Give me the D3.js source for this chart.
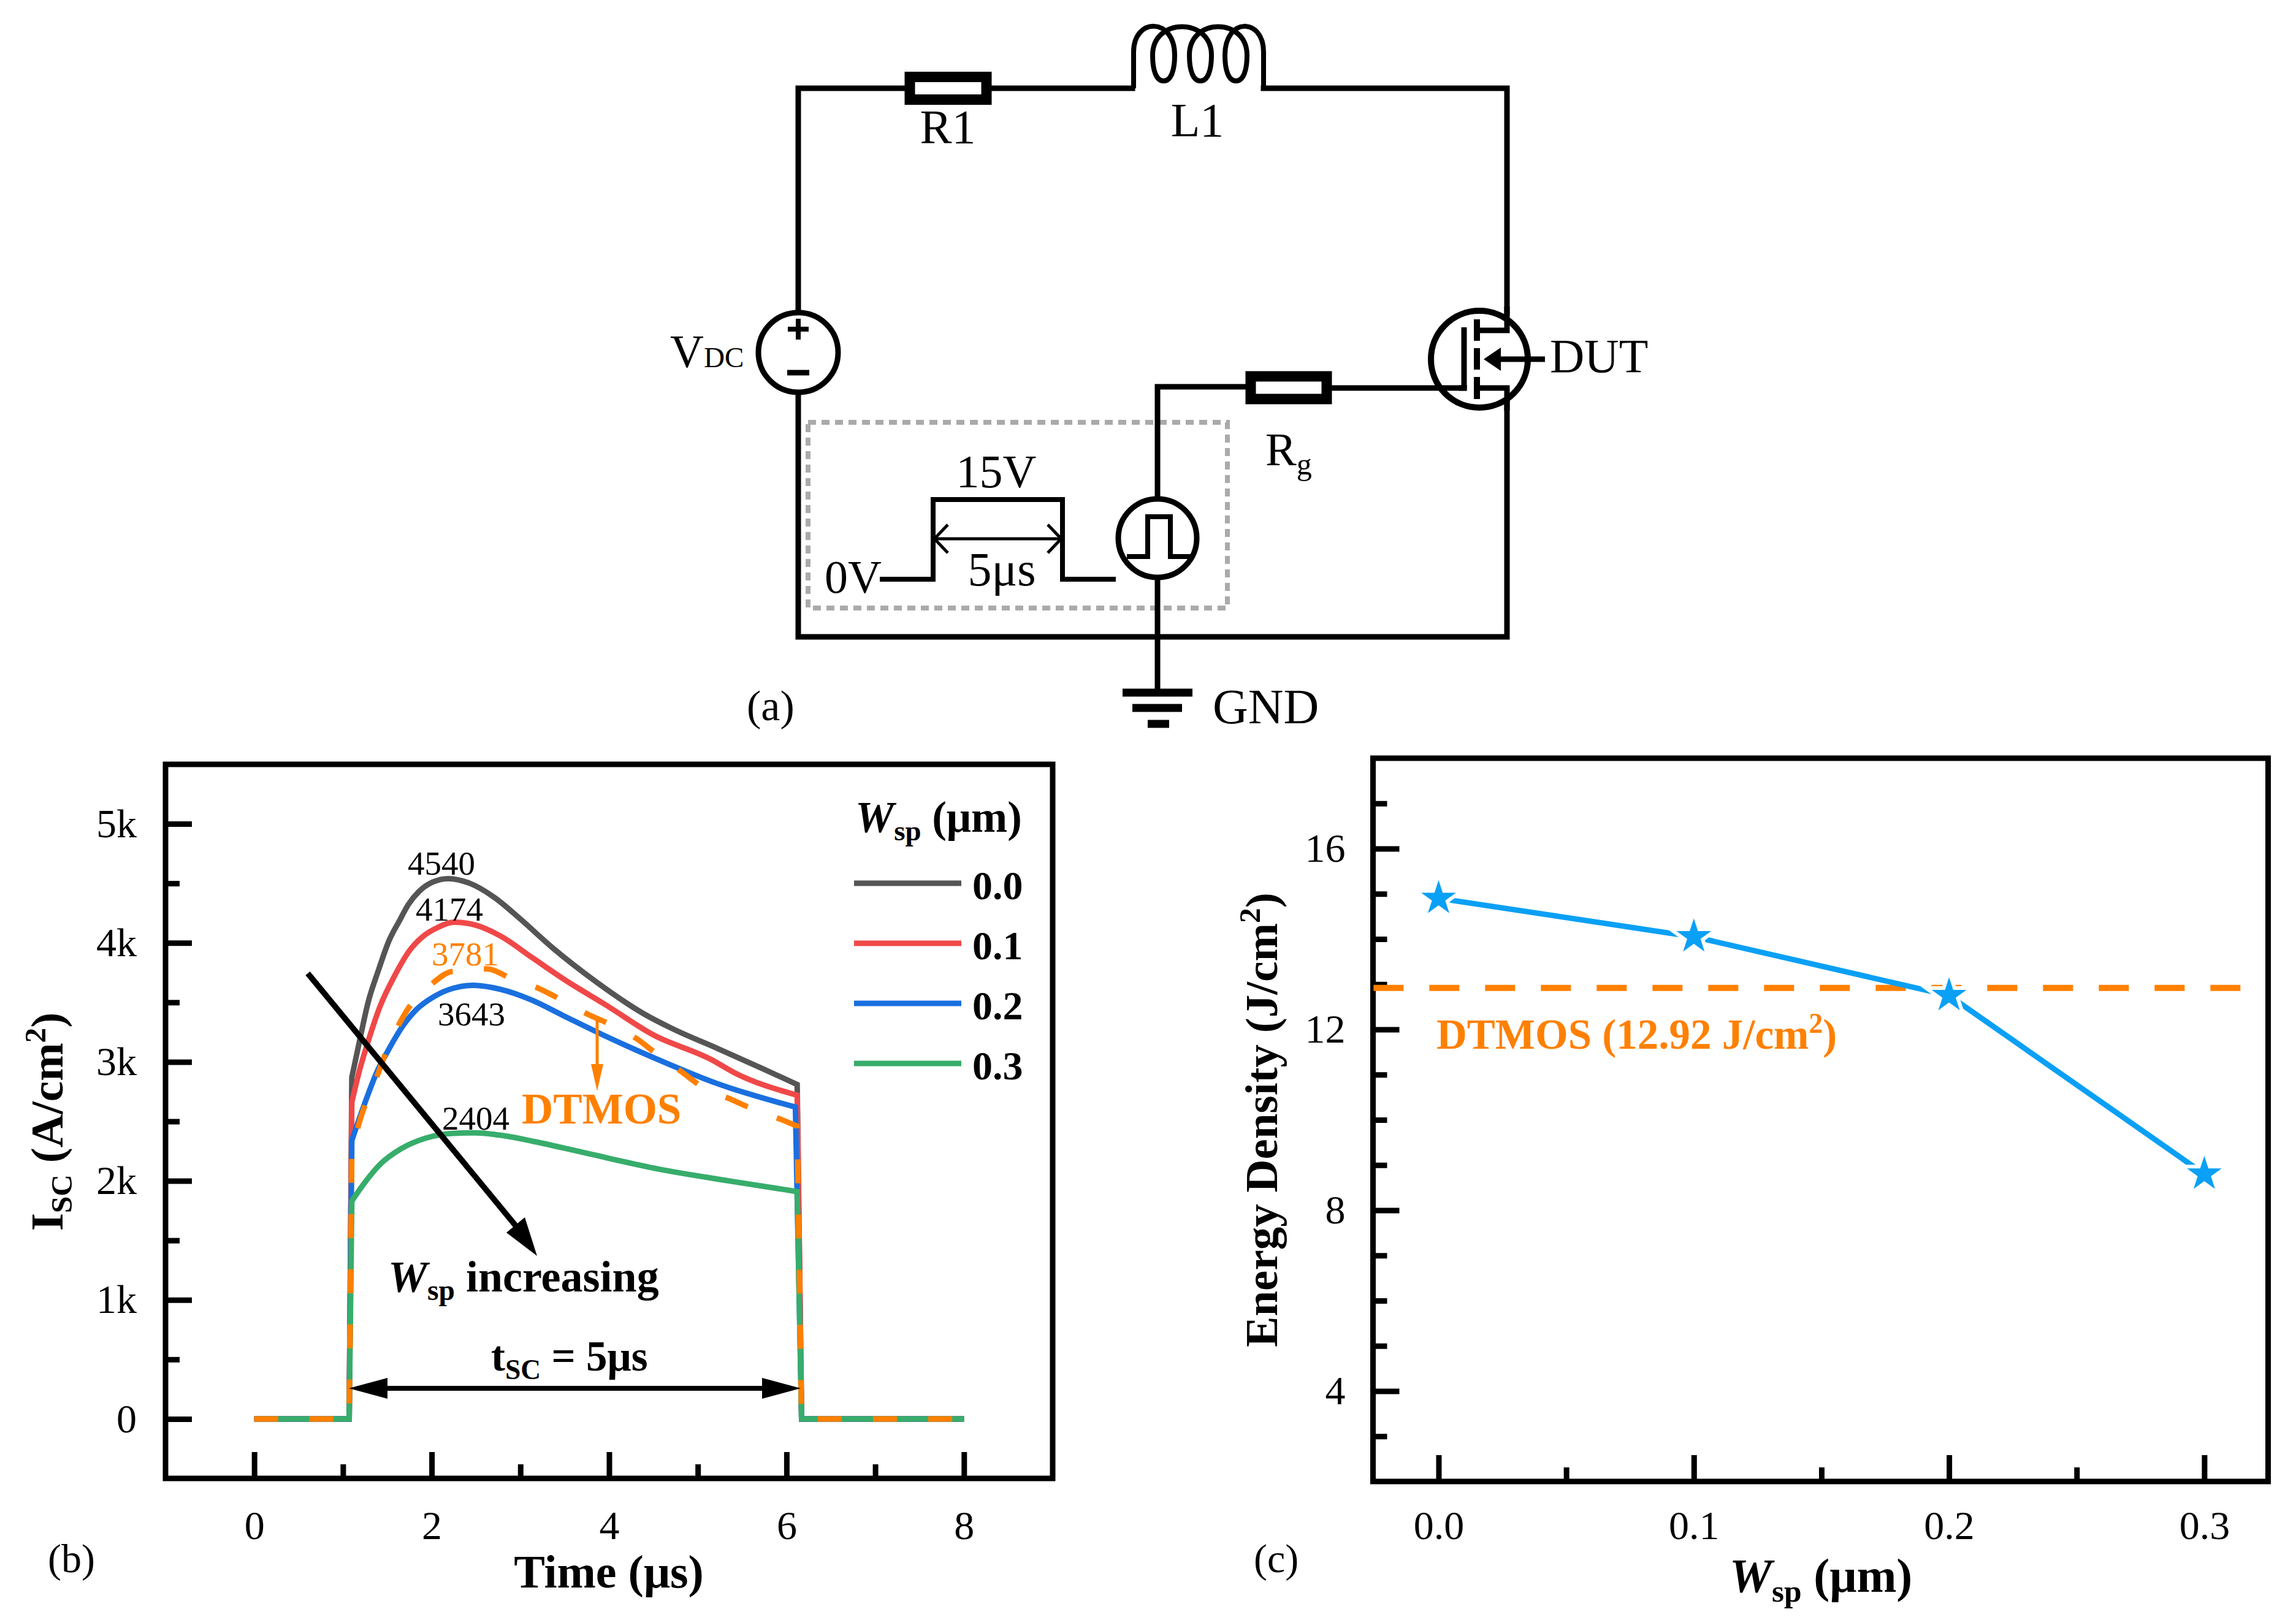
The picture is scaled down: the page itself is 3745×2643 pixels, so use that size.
<!DOCTYPE html>
<html>
<head>
<meta charset="utf-8">
<script src="https://d3js.org/d3.v7.min.js"></script>
<style>
	body { margin: 0; background: #fff; }
	text { font-family: "Liberation Serif", serif; }
</style>
</head>
<body>
<script>
// panel (b): short circuit current, A/cm2
var timeB = [0, 1.07];
var tail = [6.17, 8];

var t00 = [1.10, 1.18, 1.28, 1.40, 1.52, 1.64, 1.735, 1.855, 2.01, 2.19, 2.43, 2.71, 3.0, 3.36, 3.84, 4.40, 4.71, 5.23, 5.74, 6.12];
var v00 = [2870, 3150, 3490, 3770, 4020, 4190, 4320, 4430, 4510, 4540, 4500, 4380, 4200, 3960, 3680, 3400, 3280, 3110, 2940, 2810];

var t01 = [1.10, 1.18, 1.30, 1.42, 1.58, 1.755, 1.895, 2.07, 2.25, 2.49, 2.77, 3.125, 3.52, 3.96, 4.49, 5.15, 5.41, 6.12];
var v01 = [2660, 2910, 3210, 3470, 3720, 3940, 4050, 4130, 4174, 4150, 4060, 3880, 3680, 3480, 3230, 3020, 2910, 2720];

var t02 = [1.10, 1.24, 1.38, 1.52, 1.655, 1.815, 2.03, 2.25, 2.47, 2.77, 3.125, 3.48, 3.92, 4.55, 5.21, 6.10];
var v02 = [2340, 2640, 2910, 3110, 3280, 3430, 3550, 3620, 3643, 3610, 3520, 3390, 3230, 3020, 2820, 2620];

var t03 = [1.10, 1.24, 1.42, 1.655, 1.935, 2.25, 2.49, 2.81, 3.16, 3.76, 4.55, 5.35, 6.12];
var v03 = [1830, 1980, 2140, 2270, 2360, 2400, 2404, 2380, 2330, 2230, 2100, 2000, 1910];

var tDt = [1.10, 1.18, 1.40, 1.48, 1.635, 1.755, 2.01, 2.23, 2.63, 2.87, 3.2, 3.44, 3.76, 4.0, 4.3, 4.53, 4.81, 5.05, 5.39, 5.63, 5.96, 6.12];
var vDt = [2250, 2480, 2910, 3070, 3320, 3470, 3660, 3760, 3781, 3710, 3620, 3530, 3400, 3320, 3200, 3070, 2920, 2790, 2680, 2600, 2510, 2460];

var legendNames = ["0.0", "0.1", "0.2", "0.3"];
var peakLabels = ["4540", "4174", "3781", "3643", "2404"];

var xTicksB = [0, 2, 4, 6, 8];
var xMinorB = [1, 3, 5, 7];
var yTicksB = [0, 1000, 2000, 3000, 4000, 5000];
var yMinorB = [500, 1500, 2500, 3500, 4500];

// panel (c): energy density
var wsp = [0.0, 0.1, 0.2, 0.3];
var energy = [14.9, 14.05, 12.75, 8.8];
var dtmosEnergy = 12.92;
var dtmosSpan = [-0.0255, 0.315];

var xTicksC = [0.0, 0.1, 0.2, 0.3];
var xMinorC = [0.05, 0.15, 0.25];
var yTicksC = [4, 8, 12, 16];
var yMinorC = [3, 5, 6, 7, 9, 10, 11, 13, 14, 15, 17];

var w = 3745;
var h = 2643;
var black = "#000";
var orange = "#FF8000";
var skyBlue = "#0AA0F5";
var colors = ["#555555", "#F04848", "#1A6FDF", "#37AD6B"];

var svg = d3.select("body")
			.append("svg")
			.attr("width", w)
			.attr("height", h)
			.attr("viewBox", "0 0 " + w + " " + h)
			.style("display", "block");

// text with sub/superscripts, parts are [string, kind]
function rich(x, y, parts, size, opts){
	opts = opts || {};
	var t = svg.append("text")
				.attr("transform", "translate(" + x + "," + y + ")" + (opts.rotate ? " rotate(" + opts.rotate + ")" : ""))
				.attr("font-size", size)
				.attr("font-weight", opts.bold ? "bold" : "normal")
				.attr("fill", opts.fill || black)
				.attr("text-anchor", opts.anchor || "start")
				.attr("letter-spacing", opts.spacing || 0);
	var shift = 0;
	parts.forEach(function(p){
		var kind = p[1];
		var target = kind === "sub" ? size * 0.2 : kind === "sup" ? -size * 0.38 : 0;
		var s = t.append("tspan")
				.attr("dy", target - shift)
				.text(p[0]);
		if(kind === "sub" || kind === "sup") s.attr("font-size", size * 0.66);
		if(kind === "small") s.attr("font-size", size * 0.62);
		if(kind === "it") s.attr("font-style", "italic");
		shift = target;
	});
	return t;
}

function wire(points, width, color){
	return svg.append("path")
		.attr("d", d3.line()(points))
		.attr("fill", "none")
		.attr("stroke", color || black)
		.attr("stroke-width", width || 9)
		.attr("stroke-linecap", "square")
		.attr("stroke-linejoin", "miter");
}

function drawCircuit(){
	// main loop
	wire([[1302, 506], [1302, 144], [1475, 144]]);
	wire([[1618, 144], [1847, 144]]);
	wire([[2061, 144], [2458, 144], [2458, 510]]);
	wire([[1302, 644], [1302, 1039], [2458, 1039], [2458, 655]]);

	// R1 and Rg
	svg.append("rect").attr("x", 1484).attr("y", 125.5).attr("width", 125).attr("height", 37)
		.attr("fill", "#fff").attr("stroke", black).attr("stroke-width", 17);
	svg.append("rect").attr("x", 2040).attr("y", 614).attr("width", 124).attr("height", 37)
		.attr("fill", "#fff").attr("stroke", black).attr("stroke-width", 17);

	// L1 coil
	var coil = d3.path();
	coil.moveTo(1849, 144);
	coil.lineTo(1849, 85);
	var centers = [1898, 1958, 2016];
	var prev = 1849;
	centers.forEach(function(cx){
		coil.bezierCurveTo(prev, 28, cx + 18, 28, cx + 18, 90);
		coil.bezierCurveTo(cx + 18, 115, cx + 12, 132, cx, 132);
		coil.bezierCurveTo(cx - 12, 132, cx - 18, 115, cx - 18, 90);
		prev = cx - 18;
	});
	coil.bezierCurveTo(prev, 28, 2061, 28, 2061, 85);
	coil.lineTo(2061, 144);
	svg.append("path").attr("d", coil.toString())
		.attr("fill", "none").attr("stroke", black).attr("stroke-width", 8);

	// VDC source
	svg.append("circle").attr("cx", 1302).attr("cy", 575).attr("r", 65)
		.attr("fill", "#fff").attr("stroke", black).attr("stroke-width", 9);
	wire([[1285, 537], [1319, 537]], 8).attr("stroke-linecap", "butt");
	wire([[1302, 520], [1302, 554]], 8).attr("stroke-linecap", "butt");
	wire([[1284, 608], [1320, 608]], 9).attr("stroke-linecap", "butt");

	// gate drive box
	svg.append("rect").attr("x", 1318).attr("y", 689).attr("width", 684).attr("height", 303)
		.attr("fill", "none").attr("stroke", "#AAAAAA").attr("stroke-width", 8)
		.attr("stroke-dasharray", "13 9");

	// gate line and ground
	wire([[2173, 633], [2388, 633]]);
	wire([[2031, 631], [1888, 631], [1888, 814]]);
	wire([[1888, 947], [1888, 1130]]);
	wire([[1831, 1130], [1945, 1130]], 13).attr("stroke-linecap", "butt");
	wire([[1847, 1155], [1928, 1155]], 13).attr("stroke-linecap", "butt");
	wire([[1872, 1181], [1907, 1181]], 13).attr("stroke-linecap", "butt");

	// pulse source
	svg.append("circle").attr("cx", 1888).attr("cy", 878).attr("r", 64)
		.attr("fill", "#fff").attr("stroke", black).attr("stroke-width", 9);
	wire([[1842, 908], [1872, 908], [1872, 843], [1909, 843], [1909, 908], [1939, 908]], 8);

	// 15V pulse sketch
	wire([[1435, 945], [1522, 945], [1522, 815], [1733, 815], [1733, 945], [1820, 945]], 8).attr("stroke-linecap", "butt");
	wire([[1522, 879], [1733, 879]], 5).attr("stroke-linecap", "butt");
	wire([[1546, 856], [1524, 879], [1546, 902]], 5).attr("stroke-linecap", "butt");
	wire([[1709, 856], [1731, 879], [1709, 902]], 5).attr("stroke-linecap", "butt");

	// MOSFET
	svg.append("circle").attr("cx", 2413).attr("cy", 586).attr("r", 79)
		.attr("fill", "none").attr("stroke", black).attr("stroke-width", 10);
	wire([[2388, 633], [2388, 534]]).attr("stroke-linecap", "butt");
	wire([[2380, 633], [2392.5, 633]]).attr("stroke-linecap", "butt");
	wire([[2409, 521], [2409, 556]], 10).attr("stroke-linecap", "butt");
	wire([[2409, 568], [2409, 603]], 10).attr("stroke-linecap", "butt");
	wire([[2409, 615], [2409, 651]], 10).attr("stroke-linecap", "butt");
	wire([[2409, 539], [2458, 539], [2458, 500]]).attr("stroke-linecap", "butt");
	wire([[2409, 633], [2458, 633], [2458, 670]]).attr("stroke-linecap", "butt");
	wire([[2440, 586], [2520, 586]]).attr("stroke-linecap", "butt");
	svg.append("path").attr("d", d3.line()([[2420, 586], [2448, 567], [2448, 605]]) + "Z").attr("fill", black);

	// labels
	rich(1546, 233, [["R1"]], 78, {anchor: "middle"});
	rich(1953, 222, [["L1"]], 78, {anchor: "middle"});
	rich(1093, 599, [["V"], ["DC", "small"]], 76);
	rich(2064, 759, [["R"], ["g", "sub"]], 76);
	rich(2528, 607, [["DUT"]], 78);
	rich(1625, 795, [["15V"]], 76, {anchor: "middle"});
	rich(1345, 967, [["0V"]], 76);
	rich(1634, 955, [["5μs"]], 78, {anchor: "middle"});
	rich(1218, 1175, [["(a)"]], 70);
	rich(1978, 1180, [["GND"]], 80);
}

function drawFrame(x, y, box, xMajor, xMinor, yMajor, yMinor, fmtX, fmtY){
	var gx = svg.append("g").attr("transform", "translate(0," + box.bottom + ")");
	gx.append("g").call(d3.axisBottom(x).tickValues(xMinor).tickSize(-23).tickFormat(""));
	gx.append("g").call(d3.axisBottom(x).tickValues(xMajor).tickSize(-43).tickPadding(box.padX).tickFormat(fmtX));

	var gy = svg.append("g").attr("transform", "translate(" + box.left + ",0)");
	gy.append("g").call(d3.axisLeft(y).tickValues(yMinor).tickSize(-23).tickFormat(""));
	gy.append("g").call(d3.axisLeft(y).tickValues(yMajor).tickSize(-43).tickPadding(box.padY).tickFormat(fmtY));

	svg.selectAll(".domain").remove();
	gx.selectAll("line").attr("stroke", black).attr("stroke-width", 9);
	gy.selectAll("line").attr("stroke", black).attr("stroke-width", 9);
	gx.selectAll("text").attr("font-size", 66).attr("font-family", "Liberation Serif").attr("fill", black);
	gy.selectAll("text").attr("font-size", 66).attr("font-family", "Liberation Serif").attr("fill", black);

	svg.append("rect")
		.attr("x", box.left).attr("y", box.top)
		.attr("width", box.right - box.left).attr("height", box.bottom - box.top)
		.attr("fill", "none").attr("stroke", black).attr("stroke-width", 9);
}

function drawPanelB(){
	var box = {left: 270, right: 1717, top: 1247, bottom: 2412, padX: 52, padY: 47};
	var x = d3.scaleLinear().domain([-1, 9]).range([box.left, box.right]);
	var y = d3.scaleLinear().domain([-500, 5500]).range([box.bottom, box.top]);

	drawFrame(x, y, box, xTicksB, xMinorB, yTicksB, yMinorB, d3.format("d"), function(d){ return d === 0 ? "0" : (d / 1000) + "k"; });

	// smooth only the plateau, the rise and the fall stay straight
	var body = d3.line().x(function(d){ return x(d); }).y(function(d, i, a){ return y(a.values[i]); }).curve(d3.curveMonotoneX);
	function curvePath(t, v){
		t.values = v;
		var d = body(t).slice(1);
		return "M" + x(timeB[0]) + "," + y(0) + "L" + x(timeB[1]) + "," + y(0) + "L" + d
			+ "L" + x(tail[0]) + "," + y(0) + "L" + x(tail[1]) + "," + y(0);
	}

	var times = [t00, t01, t02, t03];
	var values = [v00, v01, v02, v03];
	times.forEach(function(t, i){
		svg.append("path").attr("d", curvePath(t, values[i]))
			.attr("fill", "none").attr("stroke", colors[i]).attr("stroke-width", 9);
	});
	svg.append("path").attr("d", curvePath(tDt, vDt))
		.attr("fill", "none").attr("stroke", orange).attr("stroke-width", 9)
		.attr("stroke-dasharray", "39 51");

	// legend
	rich(1395, 1357, [["W", "it"], ["sp", "sub"], [" (μm)"]], 71, {bold: true});
	legendNames.forEach(function(name, i){
		var ly = 1441 + i * 98;
		svg.append("line").attr("x1", 1393).attr("x2", 1568).attr("y1", ly).attr("y2", ly)
			.attr("stroke", colors[i]).attr("stroke-width", 9);
		rich(1586, ly + 26, [[name]], 66, {bold: true});
	});

	// peak values
	var peakX = [720, 733, 759, 769, 776];
	var peakY = [1427, 1502, 1575, 1673, 1843];
	peakLabels.forEach(function(label, i){
		rich(peakX[i], peakY[i], [[label]], 55, {anchor: "middle", fill: label === "3781" ? orange : black});
	});

	// DTMOS note
	rich(851, 1833, [["DTMOS"]], 71, {bold: true, fill: orange});
	wire([[974, 1661], [974, 1740]], 5, orange).attr("stroke-linecap", "butt");
	svg.append("path").attr("d", d3.line()([[964, 1736], [984, 1736], [974, 1780]]) + "Z").attr("fill", orange);

	// Wsp increasing arrow
	wire([[502, 1588], [862, 2025]], 9.5).attr("stroke-linecap", "butt");
	svg.append("path").attr("d", d3.line()([[876, 2049], [826, 2011], [856, 1986]]) + "Z").attr("fill", black);
	rich(633, 2107, [["W", "it"], ["sp", "sub"], [" increasing"]], 72, {bold: true});

	// tSC arrow
	wire([[620, 2265], [1255, 2265]], 8).attr("stroke-linecap", "butt");
	svg.append("path").attr("d", d3.line()([[569, 2265], [632, 2248], [632, 2282]]) + "Z").attr("fill", black);
	svg.append("path").attr("d", d3.line()([[1306, 2265], [1243, 2248], [1243, 2282]]) + "Z").attr("fill", black);
	rich(801, 2236, [["t"], ["SC", "sub"], [" = 5μs"]], 69, {bold: true});

	rich(78, 2565, [["(b)"]], 66);
	rich(993, 2590, [["Time (μs)"]], 76, {bold: true, anchor: "middle"});
	rich(102, 1830, [["I"], ["SC", "sub"], [" (A/cm"], ["2", "sup"], [")"]], 75, {bold: true, anchor: "middle", rotate: -90});
}

function drawPanelC(){
	var box = {left: 2239.5, right: 3699.5, top: 1237, bottom: 2417, padX: 47, padY: 45};
	var x = d3.scaleLinear().domain([-0.0257, 0.325]).range([box.left, box.right]);
	var y = d3.scaleLinear().domain([2, 18]).range([box.bottom, box.top]);

	drawFrame(x, y, box, xTicksC, xMinorC, yTicksC, yMinorC, d3.format(".1f"), d3.format("d"));

	svg.append("line")
		.attr("x1", x(dtmosSpan[0])).attr("x2", x(dtmosSpan[1]))
		.attr("y1", y(dtmosEnergy)).attr("y2", y(dtmosEnergy))
		.attr("stroke", orange).attr("stroke-width", 10)
		.attr("stroke-dasharray", "49 42");

	var line = d3.line().x(function(d){ return x(d); }).y(function(d, i){ return y(energy[i]); });
	svg.append("path").attr("d", line(wsp))
		.attr("fill", "none").attr("stroke", skyBlue).attr("stroke-width", 9);

	svg.selectAll(".star")
		.data(wsp)
		.enter()
		.append("path")
		.attr("class", "star")
		.attr("d", d3.symbol().type(d3.symbolStar).size(1000))
		.attr("transform", function(d, i){ return "translate(" + x(d) + "," + y(energy[i]) + ")"; })
		.attr("fill", skyBlue)
		.attr("stroke", "#fff")
		.attr("stroke-width", 12)
		.attr("paint-order", "stroke");

	rich(2343, 1711, [["DTMOS (12.92 J/cm"], ["2", "sup"], [")"]], 69, {bold: true, fill: orange});
	rich(2045, 2565, [["(c)"]], 66);
	rich(2970, 2597, [["W", "it"], ["sp", "sub"], [" (μm)"]], 78, {bold: true, anchor: "middle"});
	rich(2083, 1827, [["Energy Density (J/cm"], ["2", "sup"], [")"]], 75, {bold: true, anchor: "middle", rotate: -90});
}

drawCircuit();
drawPanelB();
drawPanelC();
</script>
</body>
</html>
